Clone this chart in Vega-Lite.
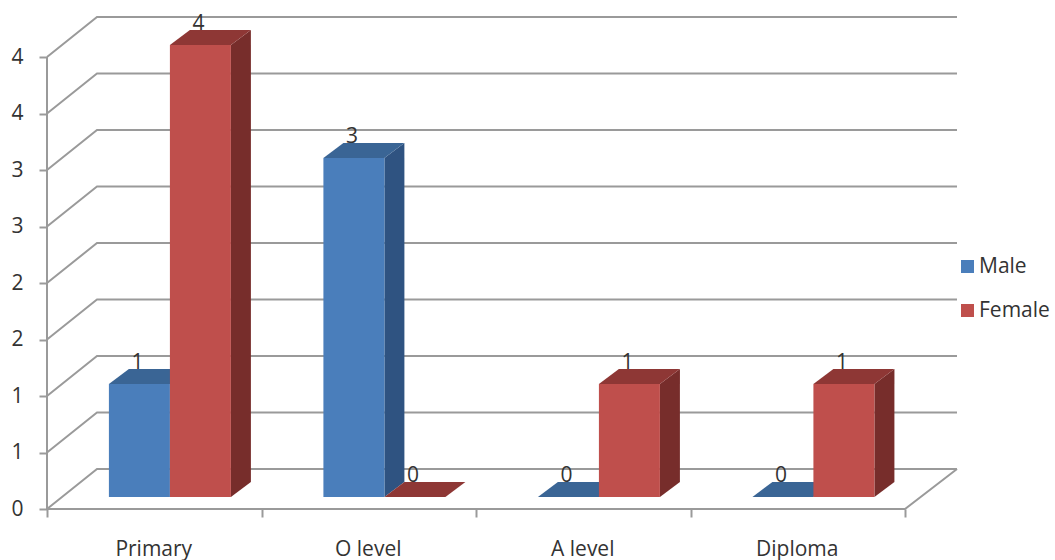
{
  "$schema": "https://vega.github.io/schema/vega-lite/v6.json",
  "width": 910,
  "height": 492,
  "autosize": "none",
  "padding": {"left": 47, "top": 17, "right": 98, "bottom": 51},
  "background": "white",
  "config": {"view": {"stroke": null}, "font": "Open Sans"},
  "resolve": {"axis": {"x": "independent", "y": "independent"}},
  "data": {"values": [
    {"category": "Primary", "series": "Male", "value": 1},
    {"category": "Primary", "series": "Female", "value": 4},
    {"category": "O level", "series": "Male", "value": 3},
    {"category": "O level", "series": "Female", "value": 0},
    {"category": "A level", "series": "Male", "value": 0},
    {"category": "A level", "series": "Female", "value": 1},
    {"category": "Diploma", "series": "Male", "value": 0},
    {"category": "Diploma", "series": "Female", "value": 1}
  ]},
  "transform": [
    {"calculate": "indexof(['Primary','O level','A level','Diploma'], datum.category) + 0.573", "as": "centre"},
    {"calculate": "datum.series === 'Male' ? datum.centre - 0.2844 : datum.centre", "as": "xl"},
    {"calculate": "datum.xl + 0.2844", "as": "xr"},
    {"calculate": "0.106", "as": "yb"},
    {"calculate": "datum.value + 0.106", "as": "yt"}
  ],
  "layer": [
    {
      "data": {"values": [
        {"level": 0}, {"level": 0.5}, {"level": 1}, {"level": 1.5}, {"level": 2},
        {"level": 2.5}, {"level": 3}, {"level": 3.5}, {"level": 4}
      ]},
      "transform": [
        {"calculate": "[0, 1, 2]", "as": "k"},
        {"flatten": ["k"]},
        {"calculate": "[0, 0.2331, 4.2424][datum.k]", "as": "gx"},
        {"calculate": "datum.k === 0 ? datum.level : datum.level + 0.354", "as": "gy"}
      ],
      "mark": {"type": "line", "stroke": "#9a9a9a", "strokeWidth": 2, "clip": false},
      "encoding": {
        "x": {
          "field": "gx", "type": "quantitative",
          "scale": {"domain": [0, 4.2424], "nice": false, "zero": false},
          "axis": {
            "title": null, "grid": false, "domain": false,
            "values": [0, 0.5, 1, 1.5, 2, 2.5, 3, 3.5, 4],
            "tickColor": "#9a9a9a", "tickWidth": 2, "tickSize": 8,
            "tickOpacity": {"condition": {"test": "datum.value % 1 === 0", "value": 1}, "value": 0},
            "labelExpr": "datum.value === 0.5 ? 'Primary' : datum.value === 1.5 ? 'O level' : datum.value === 2.5 ? 'A level' : datum.value === 3.5 ? 'Diploma' : ''",
            "labelFontSize": 21, "labelColor": "#333333", "labelPadding": 21, "labelOffset": -1,
            "labelOverlap": false, "labelFlush": false, "labelBound": false
          }
        },
        "y": {
          "field": "gy", "type": "quantitative",
          "scale": {"domain": [0, 4.354], "nice": false, "zero": false},
          "axis": {
            "title": null, "grid": false, "domain": false,
            "values": [0, 0.5, 1, 1.5, 2, 2.5, 3, 3.5, 4],
            "format": ".0f",
            "tickColor": "#9a9a9a", "tickWidth": 2, "tickSize": 8,
            "labelFontSize": 21, "labelColor": "#333333", "labelPadding": 16,
            "labelOverlap": false, "labelBound": false, "labelFlush": false
          }
        },
        "detail": {"field": "level"},
        "order": {"field": "k"}
      }
    },
    {
      "data": {"values": [
        {"fx": 0, "fy": 4, "step": 0},
        {"fx": 0, "fy": 0, "step": 1},
        {"fx": 4, "fy": 0, "step": 2},
        {"fx": 4.2424, "fy": 0.354, "step": 3}
      ]},
      "mark": {"type": "line", "stroke": "#9a9a9a", "strokeWidth": 2, "clip": false},
      "encoding": {
        "x": {"field": "fx", "type": "quantitative", "axis": null},
        "y": {"field": "fy", "type": "quantitative", "axis": null},
        "order": {"field": "step"}
      }
    },
    {
      "transform": [
        {"calculate": "[0, 1]", "as": "t"},
        {"flatten": ["t"]},
        {"calculate": "datum.xr + datum.t * 0.0932", "as": "sx"},
        {"calculate": "datum.yb + datum.t * 0.1327", "as": "sy"},
        {"calculate": "datum.yt + datum.t * 0.1327", "as": "sy2"},
        {"calculate": "datum.series === 'Male' ? '#2f5381' : '#772d2b'", "as": "shade"}
      ],
      "mark": {"type": "area", "orient": "vertical", "clip": false},
      "encoding": {
        "x": {"field": "sx", "type": "quantitative", "axis": null},
        "y": {"field": "sy", "type": "quantitative", "axis": null},
        "y2": {"field": "sy2"},
        "detail": [{"field": "category"}, {"field": "series"}],
        "fill": {"field": "shade", "type": "nominal", "scale": null, "legend": null}
      }
    },
    {
      "transform": [
        {"calculate": "[0, 1]", "as": "t"},
        {"flatten": ["t"]},
        {"calculate": "datum.xl + datum.t * 0.0932", "as": "tx"},
        {"calculate": "datum.xr + datum.t * 0.0932", "as": "tx2"},
        {"calculate": "datum.yt + datum.t * 0.1327", "as": "ty"},
        {"calculate": "datum.series === 'Male' ? '#3a6595' : '#8e3735'", "as": "shade"}
      ],
      "mark": {"type": "area", "orient": "horizontal", "clip": false},
      "encoding": {
        "y": {"field": "ty", "type": "quantitative", "axis": null},
        "x": {"field": "tx", "type": "quantitative", "axis": null},
        "x2": {"field": "tx2"},
        "detail": [{"field": "category"}, {"field": "series"}],
        "fill": {"field": "shade", "type": "nominal", "scale": null, "legend": null}
      }
    },
    {
      "mark": {"type": "rect", "clip": false},
      "encoding": {
        "x": {"field": "xl", "type": "quantitative", "axis": null},
        "x2": {"field": "xr"},
        "y": {"field": "yb", "type": "quantitative", "axis": null},
        "y2": {"field": "yt"},
        "color": {
          "field": "series", "type": "nominal",
          "scale": {"domain": ["Male", "Female"], "range": ["#4a7ebb", "#bf4f4c"]},
          "legend": {
            "title": null, "orient": "none", "legendX": 910, "legendY": 239,
            "symbolType": "square", "symbolSize": 169, "symbolStrokeWidth": 0,
            "labelFontSize": 21, "labelColor": "#333333", "labelOffset": 1,
            "rowPadding": 22
          }
        }
      }
    },
    {
      "transform": [
        {"calculate": "(datum.xl + datum.xr) / 2 - 0.009", "as": "lx"},
        {"calculate": "datum.yt + 0.19", "as": "ly"}
      ],
      "mark": {"type": "text", "fontSize": 21, "color": "#333333", "baseline": "middle", "align": "center", "clip": false},
      "encoding": {
        "x": {"field": "lx", "type": "quantitative", "axis": null},
        "y": {"field": "ly", "type": "quantitative", "axis": null},
        "text": {"field": "value", "type": "quantitative", "format": ".0f"}
      }
    }
  ]
}
